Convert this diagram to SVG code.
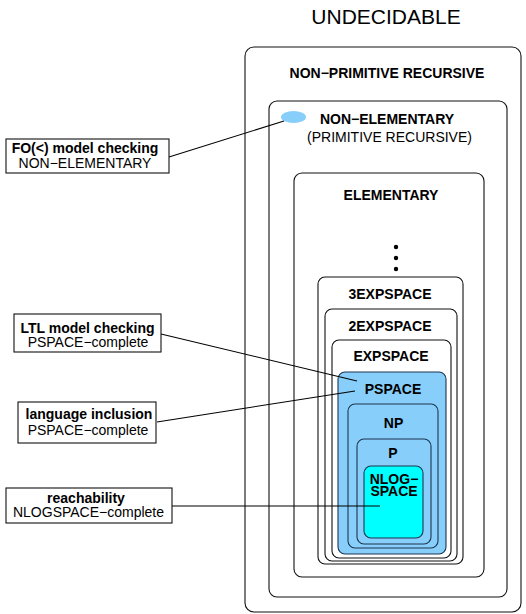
<svg xmlns="http://www.w3.org/2000/svg" width="526" height="614" viewBox="0 0 526 614">
  <style>
    text { font-family: "Liberation Sans", Arial, sans-serif; font-size: 14px; fill: #000; text-anchor: middle; }
    .b { font-weight: bold; }
    .title { font-size: 21px; }
    .cls { fill: #fff; stroke: #111; stroke-width: 1.1; }
    .blue { fill: #87cefa; stroke: #1f3550; stroke-width: 1.1; }
    .cyan { fill: #00ffff; stroke: #1f3550; stroke-width: 1.1; }
    .lbl { fill: #fff; stroke: #111; stroke-width: 1.1; }
    .conn { stroke: #000; stroke-width: 1.1; fill: none; }
  </style>

  <rect width="526" height="614" fill="#fff"/>

  <g id="undecidable">
    <text class="title" x="386" y="24">UNDECIDABLE</text>
  </g>

  <g id="non-primitive-recursive">
    <rect class="cls" x="245" y="47" width="276" height="565" rx="9"/>
    <text class="b" x="387" y="78">NON−PRIMITIVE RECURSIVE</text>
  </g>

  <g id="non-elementary">
    <rect class="cls" x="269" y="101" width="238" height="496" rx="8"/>
    <ellipse cx="293.5" cy="117" rx="12.5" ry="6" fill="#87cefa"/>
    <text class="b" x="387" y="124">NON−ELEMENTARY</text>
    <text x="389.5" y="142">(PRIMITIVE RECURSIVE)</text>
  </g>

  <g id="elementary">
    <rect class="cls" x="294" y="173" width="190" height="404" rx="8"/>
    <text class="b" x="391" y="200">ELEMENTARY</text>
    <circle cx="396" cy="247" r="2.2"/>
    <circle cx="396" cy="258" r="2.2"/>
    <circle cx="396" cy="269" r="2.2"/>
  </g>

  <g id="exp3space">
    <rect class="cls" x="318" y="277" width="145" height="287" rx="7"/>
    <text class="b" x="390" y="299">3EXPSPACE</text>
  </g>

  <g id="exp2space">
    <rect class="cls" x="325" y="309" width="132" height="252" rx="7"/>
    <text class="b" x="390" y="331">2EXPSPACE</text>
  </g>

  <g id="expspace">
    <rect class="cls" x="332" y="340" width="119" height="218" rx="7"/>
    <text class="b" x="391" y="361">EXPSPACE</text>
  </g>

  <g id="pspace">
    <rect class="blue" x="338" y="372" width="108" height="182" rx="7"/>
    <text class="b" x="393" y="394">PSPACE</text>
  </g>

  <g id="np">
    <rect class="blue" x="348" y="404" width="90" height="144" rx="7"/>
    <text class="b" x="393.5" y="428">NP</text>
  </g>

  <g id="p">
    <rect class="blue" x="357" y="439" width="74" height="105" rx="7"/>
    <text class="b" x="393" y="458">P</text>
  </g>

  <g id="nlogspace">
    <rect class="cyan" x="364" y="466" width="59" height="72" rx="7"/>
    <text class="b" x="394" y="484">NLOG−</text>
    <text class="b" x="394" y="496">SPACE</text>
  </g>

  <g id="connectors">
    <line class="conn" x1="169" y1="157" x2="284" y2="121"/>
    <line class="conn" x1="161" y1="334" x2="357" y2="381"/>
    <line class="conn" x1="157" y1="422" x2="355" y2="391"/>
    <line class="conn" x1="172" y1="506" x2="380" y2="506"/>
  </g>

  <g id="fo-model-checking">
    <rect class="lbl" x="6" y="139" width="163" height="34"/>
    <text class="b" x="85" y="153">FO(&lt;) model checking</text>
    <text x="85" y="168">NON−ELEMENTARY</text>
  </g>

  <g id="ltl-model-checking">
    <rect class="lbl" x="14" y="314" width="147" height="38"/>
    <text class="b" x="87.5" y="333">LTL model checking</text>
    <text x="88" y="347">PSPACE−complete</text>
  </g>

  <g id="language-inclusion">
    <rect class="lbl" x="18" y="402" width="138" height="41"/>
    <text class="b" x="89" y="419">language inclusion</text>
    <text x="88" y="435">PSPACE−complete</text>
  </g>

  <g id="reachability">
    <rect class="lbl" x="6" y="488" width="166" height="35"/>
    <text class="b" x="86" y="503">reachability</text>
    <text x="88.5" y="517">NLOGSPACE−complete</text>
  </g>
</svg>
